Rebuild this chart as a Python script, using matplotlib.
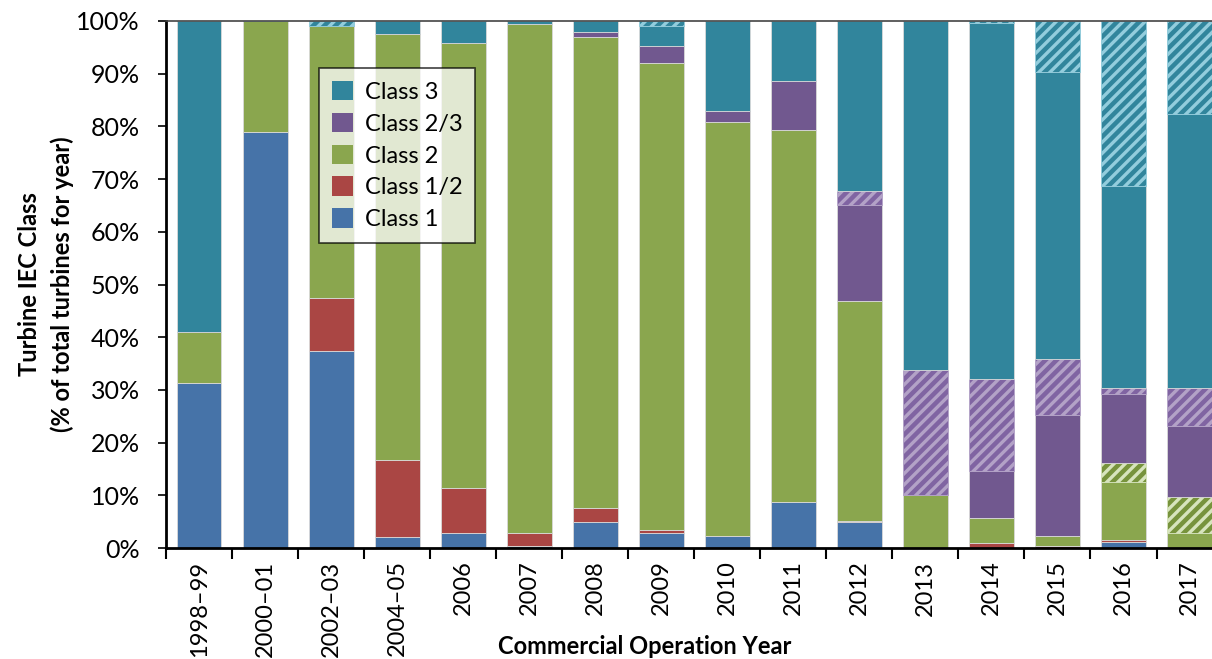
import matplotlib
matplotlib.use("Agg")
import matplotlib.pyplot as plt
import numpy as np
from matplotlib.patches import Patch
from matplotlib.ticker import FixedLocator, PercentFormatter

plt.rcParams['font.family'] = ['Lato', 'DejaVu Sans']
plt.rcParams['hatch.linewidth'] = 2.4

years = ['1998\u201399', '2000\u201301', '2002\u201303', '2004\u201305', '2006', '2007',
         '2008', '2009', '2010', '2011', '2012', '2013', '2014', '2015', '2016', '2017']

# share of turbines (%) per class, solid part and hatched part
class1 = [31.3, 78.9, 37.3, 2.1, 2.9, 0.4, 4.9, 2.9, 2.2, 8.8, 4.9, 0.0, 0.0, 0.0, 1.2, 0.0]
class12 = [0.0, 0.0, 10.1, 14.6, 8.4, 2.4, 2.7, 0.5, 0.0, 0.0, 0.3, 0.0, 0.9, 0.3, 0.4, 0.0]
class2 = [9.7, 21.1, 51.6, 80.8, 84.6, 96.7, 89.3, 88.7, 78.7, 70.5, 41.7, 10.1, 4.7, 1.9, 10.9, 2.9]
class2_h = [0.0, 0.0, 0.0, 0.0, 0.0, 0.0, 0.0, 0.0, 0.0, 0.0, 0.0, 0.0, 0.0, 0.0, 3.6, 6.8]
class23 = [0.0, 0.0, 0.0, 0.0, 0.0, 0.0, 1.0, 3.1, 2.0, 9.4, 18.1, 0.0, 9.0, 23.1, 13.2, 13.4]
class23_h = [0.0, 0.0, 0.0, 0.0, 0.0, 0.0, 0.0, 0.0, 0.0, 0.0, 2.7, 23.6, 17.4, 10.6, 1.1, 7.3]
class3 = [59.0, 0.0, 0.0, 2.5, 4.1, 0.5, 2.1, 3.8, 17.1, 11.3, 32.3, 66.3, 67.7, 54.4, 38.3, 52.0]
class3_h = [0.0, 0.0, 1.0, 0.0, 0.0, 0.0, 0.0, 1.0, 0.0, 0.0, 0.0, 0.0, 0.3, 9.7, 31.3, 17.6]

series = [
    (class1, '#4673A8', None, None),
    (class12, '#AA4644', None, None),
    (class2, '#8AA64E', None, None),
    (class2_h, '#77933C', '#D7E4BD', '///'),
    (class23, '#71588F', None, None),
    (class23_h, '#8064A2', '#B3A2C7', '///'),
    (class3, '#31859C', None, None),
    (class3_h, '#31859C', '#93CDDD', '///'),
]

fig = plt.figure(figsize=(12.12, 6.59), dpi=100)
ax = fig.add_axes([166 / 1212, 1 - 548 / 659, 1 - 166 / 1212, 527 / 659])

x = np.arange(len(years))
bottom = np.zeros(len(years))
for vals, color, hcolor, hatch in series:
    vals = np.array(vals)
    if hatch:
        ax.bar(x, vals, 0.68, bottom=bottom, color=color, edgecolor=hcolor,
               hatch=hatch, linewidth=0.6, zorder=2)
    else:
        ax.bar(x, vals, 0.68, bottom=bottom, color=color, edgecolor='#d9d9d9',
               linewidth=0.6, zorder=2)
    bottom += vals

ax.set_xlim(-0.5, 15.34)
ax.set_ylim(0, 100)
ax.set_yticks(np.arange(0, 101, 10))
ax.yaxis.set_major_formatter(PercentFormatter(decimals=0))
ax.set_xticks(x)
ax.set_xticklabels(years, rotation=90, fontsize=17)
ax.tick_params(axis='x', which='major', length=0, pad=9)
ax.xaxis.set_minor_locator(FixedLocator(np.arange(-0.5, 15.6, 1)))
ax.tick_params(axis='x', which='minor', length=8, width=1.5, direction='out')
ax.tick_params(axis='y', labelsize=18, length=6, width=1.2, direction='out', pad=13)

for s in ['left', 'bottom']:
    ax.spines[s].set_linewidth(2)
ax.spines['right'].set_visible(False)
ax.spines['top'].set_color('#444444')
ax.spines['top'].set_linewidth(1.2)

ax.set_ylabel('Turbine IEC Class\n(% of total turbines for year)', fontsize=17,
              fontweight='bold', linespacing=1.5)
ax.yaxis.set_label_coords(-0.088, 0.5)
ax.set_xlabel('Commercial Operation Year', fontsize=17, fontweight='bold')
ax.xaxis.label.set_va('center')
ax.xaxis.set_label_coords(0.458, -0.186)

handles = [Patch(facecolor='#31859C', label='Class 3'),
           Patch(facecolor='#71588F', label='Class 2/3'),
           Patch(facecolor='#8AA64E', label='Class 2'),
           Patch(facecolor='#AA4644', label='Class 1/2'),
           Patch(facecolor='#4673A8', label='Class 1')]
leg = ax.legend(handles=handles, loc='upper left', bbox_to_anchor=(0.146, 0.911),
                borderaxespad=0, fontsize=17, fancybox=False, framealpha=0.75,
                edgecolor='black', handlelength=0.9, handleheight=0.9,
                handletextpad=0.5, labelspacing=0.42, borderpad=0.55)
leg.get_frame().set_linewidth(1.2)
leg.set_zorder(5)

fig.savefig('out.png', dpi=100)
